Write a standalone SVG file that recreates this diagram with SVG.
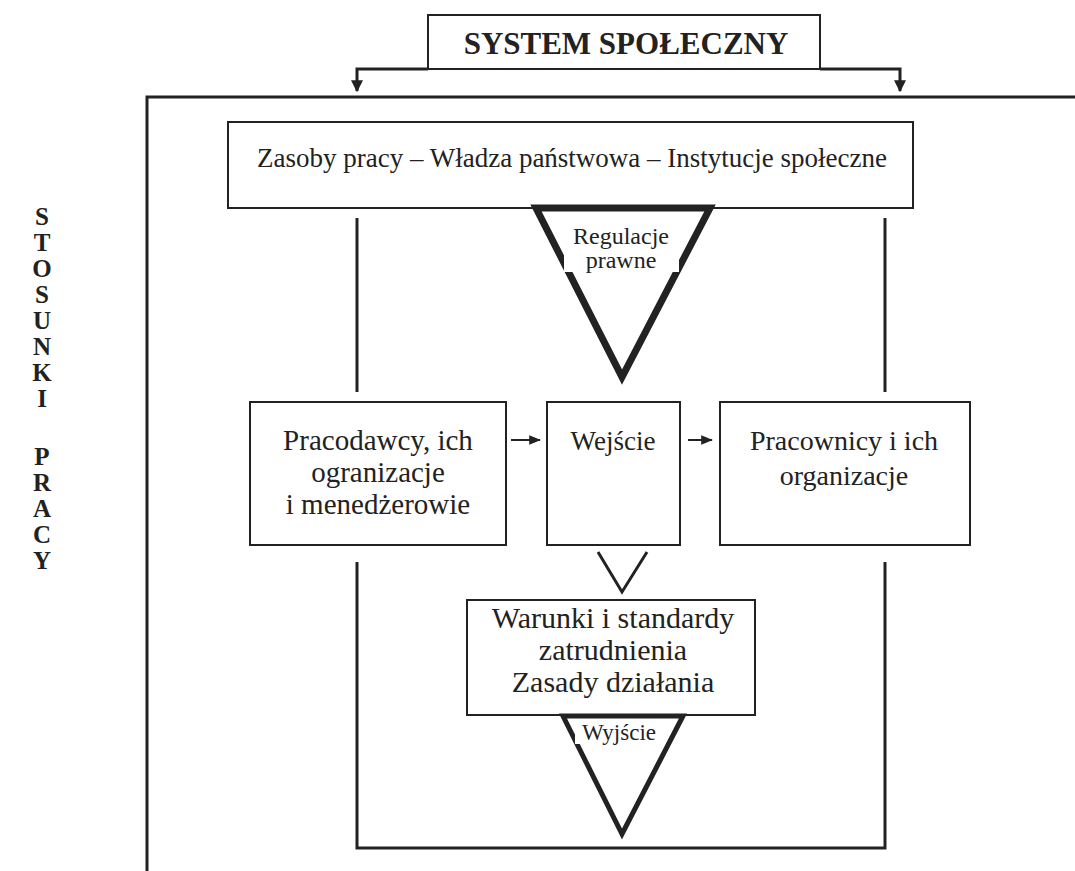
<svg xmlns="http://www.w3.org/2000/svg" width="1075" height="871" viewBox="0 0 1075 871">
<defs>
<style>
.box{fill:#fff;stroke:#222;stroke-width:2}
.ln{fill:none;stroke:#222;stroke-width:3}
.t{font-family:"Liberation Serif","Times New Roman",serif;fill:#222;text-anchor:middle}
.tri{fill:#fff;stroke:#222;stroke-linejoin:miter}
</style>
<marker id="ah" viewBox="0 0 10 10" refX="9" refY="5" markerWidth="4" markerHeight="4" orient="auto" markerUnits="strokeWidth">
<path d="M0,0 L10,5 L0,10 z" fill="#222"/>
</marker>
<marker id="sh" viewBox="0 0 10 10" refX="9" refY="5" markerWidth="6" markerHeight="6" orient="auto" markerUnits="strokeWidth">
<path d="M0,1 L10,5 L0,9 z" fill="#222"/>
</marker>
</defs>
<rect width="1075" height="871" fill="#fff"/>

<g id="frame">
<path class="ln" d="M1075,97 H147 V871"/>
<g class="t" font-weight="bold" font-size="25">
<text x="42" y="225">S</text>
<text x="42" y="251">T</text>
<text x="42" y="277">O</text>
<text x="42" y="303">S</text>
<text x="42" y="329">U</text>
<text x="42" y="355">N</text>
<text x="42" y="381">K</text>
<text x="42" y="407">I</text>
<text x="42" y="465">P</text>
<text x="42" y="491">R</text>
<text x="42" y="517">A</text>
<text x="42" y="543">C</text>
<text x="42" y="569">Y</text>
</g>
</g>

<g id="connectors">
<path class="ln" d="M428,69 H357 V91" marker-end="url(#ah)"/>
<path class="ln" d="M820,69 H900 V91" marker-end="url(#ah)"/>
<path class="ln" d="M357,218 V392"/>
<path class="ln" d="M885,218 V392"/>
<path class="ln" d="M357,562 V848 H885 V562"/>
<path fill="none" stroke="#222" stroke-width="2" d="M511,440 H540" marker-end="url(#sh)"/>
<path fill="none" stroke="#222" stroke-width="2" d="M688,440 H712" marker-end="url(#sh)"/>
<path fill="none" stroke="#222" stroke-width="3" d="M598,552 L622,592 L647,552"/>
</g>

<g id="system">
<rect class="box" x="428" y="15" width="392" height="54"/>
<text class="t" x="626" y="54" font-size="31" font-weight="bold">SYSTEM SPOŁECZNY</text>
</g>

<g id="zasoby">
<rect class="box" x="228" y="122" width="685" height="86"/>
<text class="t" x="572" y="167" font-size="27">Zasoby pracy – Władza państwowa – Instytucje społeczne</text>
</g>

<g id="regulacje">
<polygon class="tri" stroke-width="7" points="536,208 710,208 622,377"/>
<rect x="564" y="218" width="115" height="54" fill="#fff"/>
<text class="t" x="621" y="244" font-size="24">Regulacje</text>
<text class="t" x="621" y="268" font-size="24">prawne</text>
</g>

<g id="pracodawcy">
<rect class="box" x="250" y="402" width="256" height="143"/>
<text class="t" x="378" y="450" font-size="29">Pracodawcy, ich</text>
<text class="t" x="378" y="482" font-size="29">ogranizacje</text>
<text class="t" x="378" y="514" font-size="29">i menedżerowie</text>
</g>

<g id="wejscie">
<rect class="box" x="547" y="402" width="133" height="143"/>
<text class="t" x="613" y="450" font-size="27">Wejście</text>
</g>

<g id="pracownicy">
<rect class="box" x="720" y="402" width="250" height="143"/>
<text class="t" x="844" y="450" font-size="28">Pracownicy i ich</text>
<text class="t" x="844" y="485" font-size="28">organizacje</text>
</g>

<g id="warunki">
<rect class="box" x="467" y="600" width="288" height="115"/>
<text class="t" x="613" y="628" font-size="30">Warunki i standardy</text>
<text class="t" x="613" y="660" font-size="30">zatrudnienia</text>
<text class="t" x="613" y="692" font-size="30">Zasady działania</text>
</g>

<g id="wyjscie">
<polygon class="tri" stroke-width="5" points="563,716 683,716 622,834"/>
<rect x="575" y="720" width="90" height="24" fill="#fff"/>
<text class="t" x="619" y="740" font-size="23">Wyjście</text>
</g>
</svg>
